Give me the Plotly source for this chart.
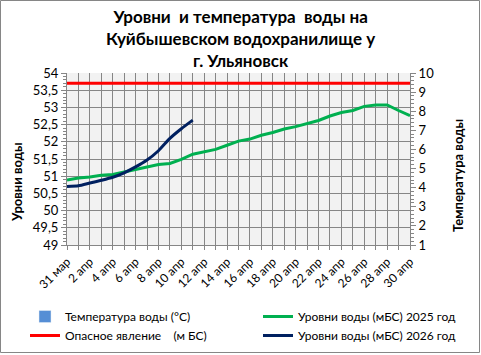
import plotly.graph_objects as go

dates = ["31 мар", "1 апр", "2 апр", "3 апр", "4 апр", "5 апр", "6 апр", "7 апр",
         "8 апр", "9 апр", "10 апр", "11 апр", "12 апр", "13 апр", "14 апр", "15 апр",
         "16 апр", "17 апр", "18 апр", "19 апр", "20 апр", "21 апр", "22 апр", "23 апр",
         "24 апр", "25 апр", "26 апр", "27 апр", "28 апр", "29 апр", "30 апр"]

level_2025 = [50.89, 50.95, 50.98, 51.03, 51.05, 51.12, 51.21, 51.28, 51.34, 51.37,
              51.49, 51.64, 51.72, 51.78, 51.90, 52.02, 52.08, 52.19, 52.27, 52.37,
              52.44, 52.52, 52.62, 52.75, 52.85, 52.91, 53.03, 53.07, 53.07, 52.91, 52.76]

level_2026 = [50.70, 50.72, 50.80, 50.88, 50.97, 51.10, 51.27, 51.47, 51.74, 52.10,
              52.38, 52.63]

danger_level = [53.7] * 31

temperature = [None, None, None, None, None, None, None, None, None, None, None, None]

W, H = 481, 355
L, R, T, B = 67, 71, 73, 110
FONT = "Lato"

x_all = list(range(len(dates)))
pw = W - L - R
ph = H - T - B

fig = go.Figure()
fig.add_trace(go.Bar(x=x_all[:len(temperature)], y=temperature, name="Температура воды (°С)",
                     marker_color="#558ed5", yaxis="y2", legend="legend", legendgroup="a"))
fig.add_trace(go.Scatter(x=x_all, y=level_2025, name="Уровни воды (мБС) 2025 год",
                         mode="lines", line=dict(color="#00b050", width=3),
                         legend="legend2", legendgroup="b"))
fig.add_trace(go.Scatter(x=x_all, y=danger_level, name="Опасное явление\u00a0\u00a0\u00a0\u00a0(м БС)",
                         mode="lines", line=dict(color="#ff0000", width=3),
                         legend="legend", legendgroup="c"))
fig.add_trace(go.Scatter(x=x_all[:len(level_2026)], y=level_2026, name="Уровни воды (мБС) 2026 год",
                         mode="lines", line=dict(color="#002060", width=3, shape="spline", smoothing=0.6),
                         legend="legend2", legendgroup="d"))

ticktext = [d if i % 2 == 0 else "" for i, d in enumerate(dates)]


def px_x(x):
    return (x - L) / pw


def px_y(y):
    return 1 - (y - T) / ph


legend_common = dict(orientation="v", yanchor="top", xanchor="left", tracegroupgap=5,
                     font=dict(family=FONT, size=12), itemwidth=30,
                     bgcolor="rgba(0,0,0,0)", traceorder="normal")

fig.update_layout(
    width=W, height=H,
    margin=dict(l=L, r=R, t=T, b=B, autoexpand=False),
    paper_bgcolor="white",
    plot_bgcolor="#f2f2f2",
    separators=", ",
    font=dict(family=FONT, size=12, color="black"),
    showlegend=True,
    legend=dict(x=px_x(25), y=px_y(302), **legend_common),
    legend2=dict(x=px_x(258), y=px_y(302), **legend_common),
    xaxis=dict(range=[0, 30], tickmode="array", tickvals=x_all, ticktext=ticktext,
               tickangle=-45, showgrid=True, gridcolor="#868686", gridwidth=1,
               ticks="outside", ticklen=4, tickcolor="#868686",
               showline=True, linecolor="#868686", zeroline=False,
               tickfont=dict(family=FONT, size=12)),
    yaxis=dict(range=[49, 54], dtick=0.5, tickformat=".1~f", showgrid=True,
               gridcolor="#868686", gridwidth=1, ticks="outside", ticklen=5,
               tickcolor="#868686", showline=True, linecolor="#868686", zeroline=False,
               minor=dict(dtick=0.1, ticks="outside", ticklen=3, tickcolor="#868686", showgrid=False),
               tickfont=dict(family=FONT, size=13)),
    yaxis2=dict(range=[1, 10], dtick=1, overlaying="y", side="right", showgrid=False,
                ticks="outside", ticklen=5, tickcolor="#868686", showline=True,
                linecolor="#868686", zeroline=False,
                minor=dict(dtick=0.2, ticks="outside", ticklen=3, tickcolor="#868686"),
                tickfont=dict(family=FONT, size=13)),
)

fig.add_annotation(text="<b>Уровни  и температура  воды на<br>Куйбышевском водохранилище у<br>г. Ульяновск</b>",
                   xref="paper", yref="paper", x=px_x(240), y=px_y(4),
                   xanchor="center", yanchor="top", showarrow=False,
                   font=dict(family=FONT, size=17), align="center")
fig.add_annotation(text="<b>Уровни воды</b>", xref="paper", yref="paper",
                   x=px_x(17), y=px_y(182), xanchor="center", yanchor="middle",
                   textangle=-90, showarrow=False, font=dict(family=FONT, size=13))
fig.add_annotation(text="<b>Температура воды</b>", xref="paper", yref="paper",
                   x=px_x(458), y=px_y(176), xanchor="center", yanchor="middle",
                   textangle=-90, showarrow=False, font=dict(family=FONT, size=13))

fig.add_shape(type="rect", xref="paper", yref="paper",
              x0=px_x(0.5), x1=px_x(W - 1.5), y0=px_y(0.5), y1=px_y(H - 2.5),
              line=dict(color="#868686", width=1), layer="below")

fig.write_html("out.html")
